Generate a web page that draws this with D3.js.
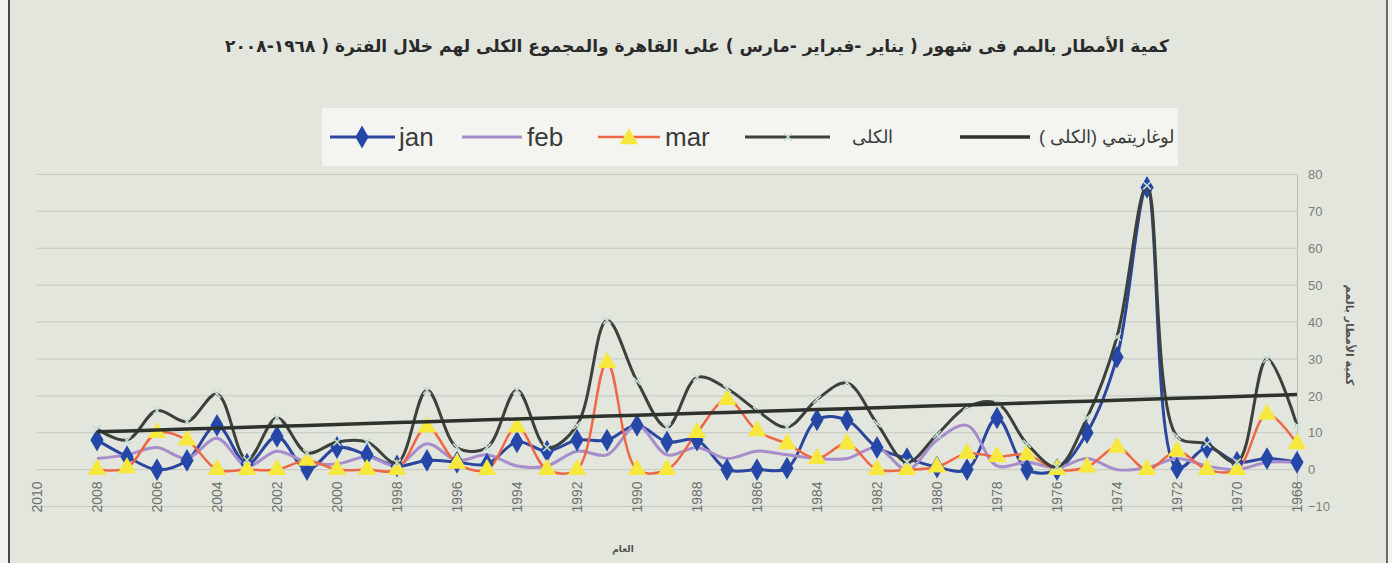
<!DOCTYPE html>
<meta charset="utf-8">
<style>
    body { margin: 0; background: #eceeea; }
    svg { display: block; }
    .grid line { stroke: #c6c9c1; stroke-width: 1; }
    .ylab text { font-family: "Liberation Sans Narrow", "Liberation Sans", sans-serif; font-size: 13px; fill: #7d807a; }
    .xlab text { font-family: "Liberation Sans Narrow", "Liberation Sans", sans-serif; font-size: 14px; fill: #6e716b; }
    .leg text { font-family: "Liberation Sans Narrow", "Liberation Sans", sans-serif; font-size: 26px; fill: #3a3a3a; }
</style>
<svg width="1392" height="563"></svg>
<script src="https://d3js.org/d3.v7.min.js"></script>
<script>
    // years run right (1968) to left (2008)
    var years = [2008, 2007, 2006, 2005, 2004, 2003, 2002, 2001, 2000, 1999, 1998, 1997, 1996, 1995,
        1994, 1993, 1992, 1991, 1990, 1989, 1988, 1987, 1986, 1985, 1984, 1983, 1982, 1981,
        1980, 1979, 1978, 1977, 1976, 1975, 1974, 1973, 1972, 1971, 1970, 1969, 1968];

    var jan = [8, 3.5, 0, 2.5, 12, 1.5, 9, 0, 6, 4, 1, 2.5, 2, 1.5,
        7.5, 5, 8, 8, 12, 7.5, 8, 0, 0, 0.4, 13.5, 13.4, 6, 3,
        0.7, 0, 14, 0, 0, 10, 30.5, 76.5, 0.4, 6, 2, 3, 2];

    var feb = [3, 4, 6, 3, 8.5, 1, 5, 2, 1.5, 3.5, 1, 7, 2.5, 4,
        1, 1, 5, 4, 12, 4, 6, 3, 5, 4, 3, 3, 6, 0,
        8, 12, 1, 2, 0.5, 3, 0, 0.5, 3, 1, 0, 2, 2];

    var mar = [0, 0.5, 10, 8, 0, 0, 0, 2.5, 0, 0, 0, 11.5, 1.7, 0,
        11.5, 0, 0, 29, 0, 0, 10, 19, 10.5, 7, 3, 7, 0, 0,
        0.7, 4.4, 3.5, 4, 0, 0.7, 6, 0, 5, 0, 0, 15, 7];

    var total = [11, 8, 16, 13, 20.5, 2.6, 14, 4.5, 7.5, 7.5, 1.8, 21.5, 6, 6,
        21.5, 6, 12, 40.5, 24, 11.5, 25, 22, 16, 11.5, 19, 23.5, 12.5, 2,
        9.5, 17, 18, 7, 0.7, 14, 36, 77, 9, 7, 2, 30, 12];

    var xTicks = [2010, 2008, 2006, 2004, 2002, 2000, 1998, 1996, 1994, 1992, 1990, 1988,
        1986, 1984, 1982, 1980, 1978, 1976, 1974, 1972, 1970, 1968];
    var yTicks = [-10, 0, 10, 20, 30, 40, 50, 60, 70, 80];

    var title = "كمية الأمطار بالمم فى شهور ( يناير -فبراير -مارس ) على القاهرة والمجموع الكلى لهم خلال الفترة ( ١٩٦٨-٢٠٠٨";
    var yTitle = "كمية الأمطار بالمم";
    var xTitle = "العام";
    var legendNames = ["jan", "feb", "mar", "الكلى", "لوغاريتمي (الكلى )"];

    var svg = d3.select("svg");

    var x = d3.scaleLinear().domain([2010, 1968]).range([37, 1297]);
    var y = d3.scaleLinear().domain([-10, 80]).range([506.5, 174.5]);

    // paper background
    svg.append("rect").attr("x", 0).attr("y", 0).attr("width", 1392).attr("height", 563).attr("fill", "#e3e6dd");
    svg.append("rect").attr("x", 0).attr("y", 0).attr("width", 9).attr("height", 563).attr("fill", "#f2f2ef");
    svg.append("rect").attr("x", 1388).attr("y", 0).attr("width", 4).attr("height", 563).attr("fill", "#f2f2ef");
    svg.append("line").attr("x1", 9).attr("x2", 9).attr("y1", 0).attr("y2", 563)
        .attr("stroke", "#4a4a48").attr("stroke-width", 2);
    svg.append("line").attr("x1", 1387).attr("x2", 1387).attr("y1", 0).attr("y2", 563)
        .attr("stroke", "#6a6b68").attr("stroke-width", 2);

    // title
    var t = svg.append("text")
        .attr("x", 697).attr("y", 52)
        .attr("direction", "rtl")
        .attr("text-anchor", "middle")
        .attr("font-family", "DejaVu Sans")
        .attr("font-weight", "bold")
        .attr("font-size", 16)
        .attr("fill", "#2a2a2a")
        .text(title);
    var tl = t.node().getComputedTextLength();
    t.attr("font-size", 16 * 945 / tl);

    // gridlines
    svg.append("g").attr("class", "grid")
        .selectAll("line").data(yTicks).enter().append("line")
        .attr("x1", x(2010)).attr("x2", x(1968))
        .attr("y1", d => y(d)).attr("y2", d => y(d));

    // y axis on the right
    var yAxis = svg.append("g").attr("class", "ylab")
        .attr("transform", "translate(" + x(1968) + ",0)")
        .call(d3.axisRight(y).tickValues(yTicks).tickSize(0).tickPadding(11));
    yAxis.select(".domain").attr("stroke", "#b9bcb4");

    // x labels, rotated
    svg.append("g").attr("class", "xlab")
        .selectAll("text").data(xTicks).enter().append("text")
        .attr("transform", d => "translate(" + (x(d) + 5) + ",497) rotate(-90)")
        .attr("text-anchor", "middle")
        .text(d => d);

    svg.append("text")
        .attr("transform", "translate(1346,335) rotate(90)")
        .attr("direction", "rtl")
        .attr("text-anchor", "middle")
        .attr("font-family", "DejaVu Sans").attr("font-weight", "bold")
        .attr("font-size", 11).attr("fill", "#4e504c")
        .text(yTitle);

    svg.append("text")
        .attr("x", 623).attr("y", 552)
        .attr("direction", "rtl")
        .attr("text-anchor", "middle")
        .attr("font-family", "DejaVu Sans").attr("font-weight", "bold")
        .attr("font-size", 9).attr("fill", "#4e504c")
        .text(xTitle);

    function pts(vals) {
        return vals.map((v, i) => [years[i], v]);
    }

    var line = d3.line()
        .x(d => x(d[0]))
        .y(d => y(d[1]))
        .curve(d3.curveCatmullRom);

    var plot = svg.append("g");

    // jan
    plot.append("path").attr("d", line(pts(jan)))
        .attr("fill", "none").attr("stroke", "#2b469f").attr("stroke-width", 3);
    // feb
    plot.append("path").attr("d", line(pts(feb)))
        .attr("fill", "none").attr("stroke", "#a88dcc").attr("stroke-width", 3);
    // mar
    plot.append("path").attr("d", line(pts(mar)))
        .attr("fill", "none").attr("stroke", "#ee6846").attr("stroke-width", 2.5);

    var diamond = d3.symbol().type(d3.symbolDiamond).size(150);
    var tri = d3.symbol().type(d3.symbolTriangle).size(150);
    var cross = d3.symbol().type(d3.symbolX).size(40);

    plot.append("g").selectAll("path").data(pts(jan)).enter().append("path")
        .attr("d", diamond)
        .attr("transform", d => "translate(" + x(d[0]) + "," + y(d[1]) + ")")
        .attr("fill", "#2547a8");

    plot.append("g").selectAll("path").data(pts(mar)).enter().append("path")
        .attr("d", tri)
        .attr("transform", d => "translate(" + x(d[0]) + "," + y(d[1]) + ")")
        .attr("fill", "#f6e83c");

    // total
    plot.append("path").attr("d", line(pts(total)))
        .attr("fill", "none").attr("stroke", "#3c413c").attr("stroke-width", 3);
    plot.append("g").selectAll("path").data(pts(total)).enter().append("path")
        .attr("d", cross)
        .attr("transform", d => "translate(" + x(d[0]) + "," + y(d[1]) + ")")
        .attr("fill", "none").attr("stroke", "#c6ddd6").attr("stroke-width", 1.5);

    // logarithmic trendline of the total: total = a*ln(year) + b
    var lx = years.map(Math.log);
    var mx = d3.mean(lx), my = d3.mean(total);
    var a = d3.sum(lx, (v, i) => (v - mx) * (total[i] - my)) / d3.sum(lx, v => (v - mx) * (v - mx));
    var b = my - a * mx;
    var trend = years.map(yr => [yr, a * Math.log(yr) + b]);
    plot.append("path").attr("d", d3.line().x(d => x(d[0])).y(d => y(d[1]))(trend))
        .attr("fill", "none").attr("stroke", "#2d322d").attr("stroke-width", 3.5);

    // legend
    var leg = svg.append("g").attr("class", "leg");
    leg.append("rect").attr("x", 322).attr("y", 108).attr("width", 856).attr("height", 58)
        .attr("fill", "#f4f5f1");

    var ly = 137;
    leg.append("line").attr("x1", 330).attr("x2", 395).attr("y1", ly).attr("y2", ly)
        .attr("stroke", "#2b469f").attr("stroke-width", 3);
    leg.append("path").attr("d", diamond).attr("transform", "translate(362," + ly + ")").attr("fill", "#2547a8");
    leg.append("text").attr("x", 399).attr("y", ly + 9).text(legendNames[0]);

    leg.append("line").attr("x1", 462).attr("x2", 522).attr("y1", ly).attr("y2", ly)
        .attr("stroke", "#a88dcc").attr("stroke-width", 3);
    leg.append("text").attr("x", 527).attr("y", ly + 9).text(legendNames[1]);

    leg.append("line").attr("x1", 598).attr("x2", 660).attr("y1", ly).attr("y2", ly)
        .attr("stroke", "#ee6846").attr("stroke-width", 2.5);
    leg.append("path").attr("d", tri).attr("transform", "translate(629," + (ly + 2) + ")").attr("fill", "#f6e83c");
    leg.append("text").attr("x", 665).attr("y", ly + 9).text(legendNames[2]);

    leg.append("line").attr("x1", 745).attr("x2", 830).attr("y1", ly).attr("y2", ly)
        .attr("stroke", "#3c413c").attr("stroke-width", 3);
    leg.append("path").attr("d", cross).attr("transform", "translate(788," + ly + ")")
        .attr("fill", "none").attr("stroke", "#c6ddd6").attr("stroke-width", 1.5);
    leg.append("text").attr("x", 893).attr("y", ly + 6).attr("direction", "rtl")
        .attr("font-family", "DejaVu Sans").style("font-size", "18px").text(legendNames[3]);

    leg.append("line").attr("x1", 960).attr("x2", 1030).attr("y1", ly).attr("y2", ly)
        .attr("stroke", "#2d322d").attr("stroke-width", 3.5);
    var lt = leg.append("text").attr("x", 1174).attr("y", ly + 6).attr("direction", "rtl")
        .attr("font-family", "DejaVu Sans").style("font-size", "18px").text(legendNames[4]);
    var ltl = lt.node().getComputedTextLength();
    lt.style("font-size", Math.min(18, 18 * 138 / ltl) + "px");
</script>
